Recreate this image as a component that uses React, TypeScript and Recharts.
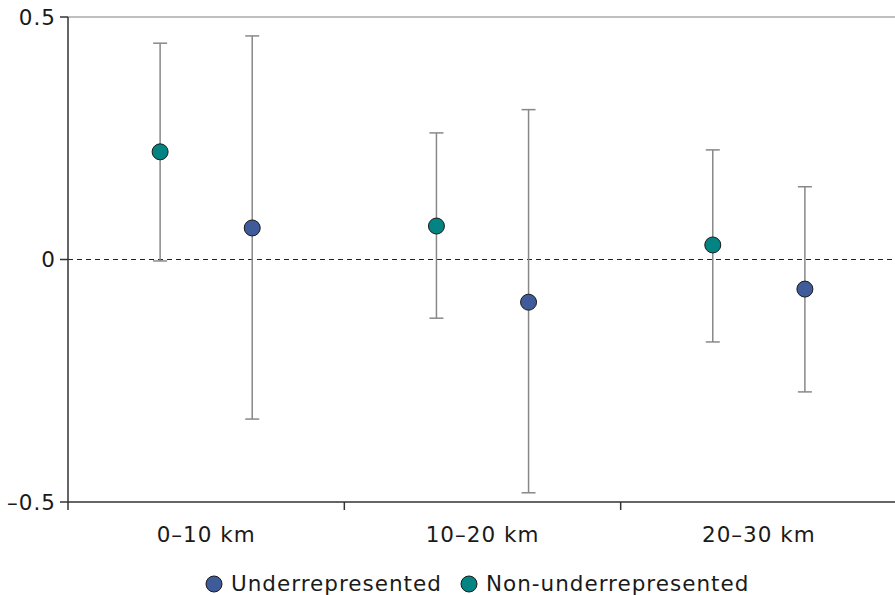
import { ComposedChart, Scatter, ErrorBar, XAxis, YAxis, ReferenceLine } from "recharts";

const categories = ["0–10 km", "10–20 km", "20–30 km"];
const underValues = [0.065, -0.088, -0.061];
const underLow = [-0.329, -0.481, -0.273];
const underHigh = [0.461, 0.309, 0.15];
const nonValues = [0.222, 0.069, 0.03];
const nonLow = [-0.003, -0.121, -0.17];
const nonHigh = [0.446, 0.261, 0.226];
const yTicks = [-0.5, 0, 0.5];

const NAVY = "#3f5b9a";
const TEAL = "#038482";
const FONT = "'DejaVu Sans', sans-serif";
const SPACING = 1;
const FS = 21.5;

const underData = categories.map((c, i) => ({
  x: i + 2 / 3,
  y: underValues[i],
  err: [underValues[i] - underLow[i], underHigh[i] - underValues[i]],
}));
const nonData = categories.map((c, i) => ({
  x: i + 1 / 3,
  y: nonValues[i],
  err: [nonValues[i] - nonLow[i], nonHigh[i] - nonValues[i]],
}));

const xTicks = [0, 0.5, 1, 1.5, 2, 2.5, 3];

const XTick = (props: any) => {
  const { x, y, payload } = props;
  const v = payload.value;
  if (Number.isInteger(v)) {
    return <line x1={x} x2={x} y1={y} y2={y + 8} stroke="#333" strokeWidth={1.5} />;
  }
  return (
    <text x={x} y={y + 40} textAnchor="middle" fontSize={FS} fontFamily={FONT} letterSpacing={SPACING} fill="#1a1a1a">
      {categories[Math.floor(v)]}
    </text>
  );
};

const dot = (color: string) => (props: any) => (
  <circle cx={props.cx} cy={props.cy} r={8} fill={color} stroke="#1a1a1a" strokeWidth={1} />
);

const LegendDot = ({ color }: { color: string }) => (
  <svg width={18} height={18} style={{ marginRight: 8 }}>
    <circle cx={9} cy={9} r={8} fill={color} stroke="#1a1a1a" strokeWidth={1} />
  </svg>
);

export default function App() {
  return (
    <div style={{ position: "absolute", left: 0, top: 0, width: 895, height: 595, background: "#fff" }}>
      <ComposedChart width={897} height={595} margin={{ top: 17, right: 0, left: 0, bottom: 43 }}>
        <XAxis
          type="number"
          dataKey="x"
          domain={[0, 3]}
          ticks={xTicks}
          interval={0}
          tick={<XTick />}
          tickLine={false}
          tickSize={0}
          tickMargin={0}
          height={50}
          stroke="#333"
          strokeWidth={1.5}
          allowDataOverflow
        />
        <YAxis
          type="number"
          domain={[-0.5, 0.5]}
          ticks={yTicks}
          width={68}
          tickSize={8}
          tickMargin={4}
          stroke="#333"
          strokeWidth={1.5}
          tick={{ fill: "#1a1a1a", fontSize: FS, fontFamily: FONT, letterSpacing: SPACING }}
          tickFormatter={(v: number) => (v === 0 ? "0" : v < 0 ? `–${Math.abs(v)}` : `${v}`)}
        />
        <ReferenceLine y={0.5} stroke="#aaa" strokeWidth={1.5} />
        <ReferenceLine y={0} stroke="#222" strokeDasharray="5 4" strokeWidth={1.2} />
        <Scatter data={nonData} dataKey="y" shape={dot(TEAL)} isAnimationActive={false}>
          <ErrorBar dataKey="err" direction="y" width={7} stroke="#888" strokeWidth={1.5} />
        </Scatter>
        <Scatter data={underData} dataKey="y" shape={dot(NAVY)} isAnimationActive={false}>
          <ErrorBar dataKey="err" direction="y" width={7} stroke="#888" strokeWidth={1.5} />
        </Scatter>
      </ComposedChart>
      <div
        style={{
          position: "absolute",
          top: 571,
          left: 205,
          display: "flex",
          alignItems: "center",
          fontFamily: FONT,
          fontSize: FS,
          letterSpacing: SPACING,
          color: "#1a1a1a",
        }}
      >
        <LegendDot color={NAVY} />
        <span style={{ marginRight: 18 }}>Underrepresented</span>
        <LegendDot color={TEAL} />
        <span>Non-underrepresented</span>
      </div>
    </div>
  );
}
